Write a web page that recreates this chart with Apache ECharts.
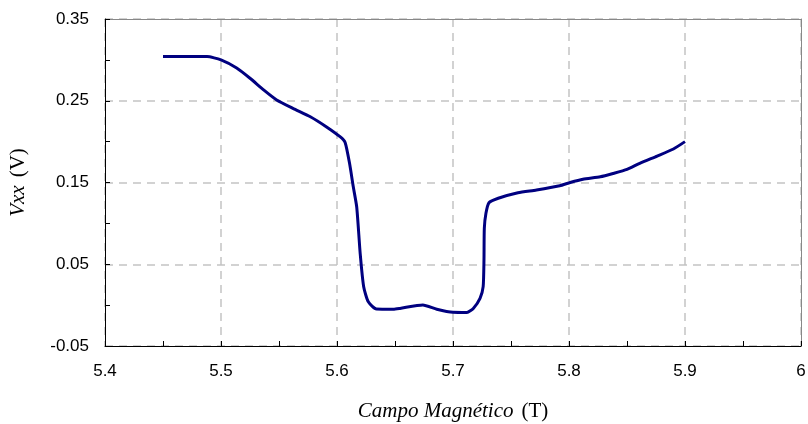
<!DOCTYPE html>
<html>
<head>
<meta charset="utf-8">
<script src="https://cdn.jsdelivr.net/npm/echarts@6/dist/echarts.min.js"></script>
<style>html,body{margin:0;padding:0;background:#fff}#c{width:808px;height:424px}</style>
</head>
<body>
<div id="c"></div>
<script>
// Data
const campo = [5.45, 5.488, 5.5, 5.5135, 5.525, 5.537, 5.548, 5.562, 5.577, 5.591, 5.6026, 5.607, 5.611, 5.614, 5.617, 5.62, 5.623, 5.627, 5.634, 5.6485, 5.6543, 5.674, 5.686, 5.7, 5.712, 5.7175, 5.7233, 5.726, 5.7267, 5.727, 5.7284, 5.731, 5.739, 5.756, 5.772, 5.792, 5.801, 5.812, 5.827, 5.838, 5.85, 5.861, 5.876, 5.89, 5.9];
const vxx   = [0.304, 0.304, 0.300, 0.290, 0.2775, 0.263, 0.251, 0.2407, 0.2305, 0.218, 0.206, 0.199, 0.172, 0.145, 0.120, 0.063, 0.0225, 0.004, -0.0047, -0.005, -0.004, 0.0002, -0.005, -0.0088, -0.009, -0.004, 0.0083, 0.0226, 0.055, 0.094, 0.1123, 0.1253, 0.1307, 0.1375, 0.1408, 0.146, 0.150, 0.154, 0.157, 0.161, 0.166, 0.1735, 0.1824, 0.191, 0.200];
const xMin = 5.4, xMax = 6.0, xStep = 0.1, xTickStep = 0.05;
const yMin = -0.05, yMax = 0.35, yStep = 0.1, yTickStep = 0.05;

const chart = echarts.init(document.getElementById('c'), null, {renderer: 'canvas'});
const tickFont = {fontFamily: '"Liberation Sans", Arial, sans-serif', fontSize: 17, color: '#000'};
const dashed = {show: true, lineStyle: {color: '#c4c4c4', type: [8, 6], width: 1.5}};
const serif = '"Liberation Serif", "Times New Roman", serif';
const nameRich = {
  i: {fontFamily: serif, fontStyle: 'italic', fontSize: 21, color: '#000'},
  n: {fontFamily: serif, fontSize: 21, color: '#000', padding: [0, 0, 0, 8]}
};
function labelEvery(min, step) {
  return v => {
    const k = Math.round((v - min) / step);
    return k % 2 === 0 ? String(+v.toFixed(2)) : '';
  };
}
chart.setOption({
  animation: false,
  grid: {left: 105, right: 7, top: 19, bottom: 78, containLabel: false, outerBoundsMode: 'none'},
  xAxis: [{
    type: 'value', position: 'bottom', min: xMin, max: xMax, interval: xTickStep,
    axisLine: {show: true, onZero: false, lineStyle: {color: '#000', width: 1}},
    axisTick: {show: true, inside: true, length: 5, lineStyle: {color: '#000'}},
    axisLabel: Object.assign({margin: 17, formatter: labelEvery(xMin, xTickStep), showMinLabel: true, showMaxLabel: true}, tickFont),
    splitLine: {show: false},
    name: '{i|Campo Magnético}{n|(T)}',
    nameLocation: 'middle', nameGap: 55,
    nameTextStyle: {rich: nameRich}
  }, {
    type: 'value', position: 'top', min: xMin, max: xMax, interval: xStep,
    axisLine: {show: true, onZero: false, lineStyle: {color: '#888', width: 1}},
    axisTick: {show: false}, axisLabel: {show: false}, splitLine: dashed
  }],
  yAxis: [{
    type: 'value', position: 'left', min: yMin, max: yMax, interval: yTickStep,
    axisLine: {show: true, onZero: false, lineStyle: {color: '#000', width: 1}},
    axisTick: {show: true, inside: true, length: 5, lineStyle: {color: '#000'}},
    axisLabel: Object.assign({margin: 16, formatter: labelEvery(yMin, yTickStep), showMinLabel: true, showMaxLabel: true}, tickFont),
    splitLine: {show: false},
    name: '{i|Vxx}{n|(V)}',
    nameLocation: 'middle', nameGap: 76, nameRotate: 90,
    nameTextStyle: {rich: nameRich}
  }, {
    type: 'value', position: 'right', min: yMin, max: yMax, interval: yStep,
    axisLine: {show: true, onZero: false, lineStyle: {color: '#888', width: 1}},
    axisTick: {show: false}, axisLabel: {show: false}, splitLine: dashed
  }],
  series: [{
    type: 'line',
    xAxisIndex: 0, yAxisIndex: 0,
    data: campo.map((x, i) => [x, vxx[i]]),
    showSymbol: false,
    smooth: 0.2,
    lineStyle: {color: '#000080', width: 3},
    itemStyle: {color: '#000080'},
    z: 5
  }]
});
</script>
</body>
</html>
